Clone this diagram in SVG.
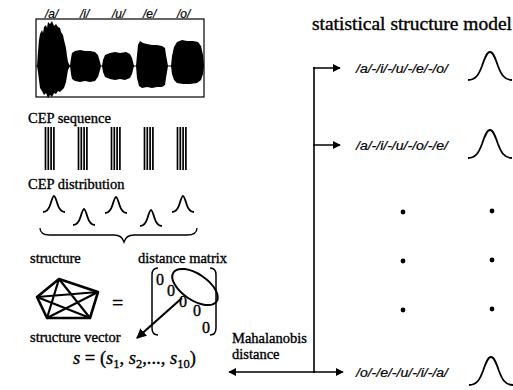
<svg xmlns="http://www.w3.org/2000/svg" width="513" height="390" viewBox="0 0 513 390">
<style>
.serif{font-family:"Liberation Serif","Times New Roman",serif;fill:#000;stroke:#000;stroke-width:0.35}
.ph{font-family:"Liberation Sans",Arial,sans-serif;font-style:italic;fill:#000;stroke:#000;stroke-width:0.2}
.ln{stroke:#000;fill:none}
.bell{stroke:#000;stroke-width:1.8;fill:none}
.dot{fill:#000}
</style>
<defs>
<marker id="ah" viewBox="0 0 10 10" refX="9" refY="5" markerWidth="8" markerHeight="8" markerUnits="userSpaceOnUse" orient="auto">
<path d="M0,0 L10,5 L0,10 Z" fill="#000"/>
</marker>
<marker id="ahb" viewBox="0 0 10 10" refX="9" refY="5" markerWidth="10" markerHeight="10" markerUnits="userSpaceOnUse" orient="auto">
<path d="M0,0 L10,5 L0,10 Z" fill="#000"/>
</marker>
<path id="sbell" d="M0,16 C4,16 6,13 7.5,8 C9,3 10,0 11,0 C12,0 13,3 14.5,8 C16,13 18,16 22,16"/>
<path id="bbell" d="M0,28 C8,28 11,22 14,14 C17,5 19,0 22,0 C25,0 27,5 30,14 C33,22 36,28 44,28"/>
</defs>

<g id="waveform">
<text class="ph" x="45" y="18" font-size="12">/a/</text>
<text class="ph" x="80" y="18" font-size="12">/i/</text>
<text class="ph" x="112" y="18" font-size="12">/u/</text>
<text class="ph" x="143" y="18" font-size="12">/e/</text>
<text class="ph" x="177" y="18" font-size="12">/o/</text>
<rect x="36" y="19" width="168" height="78" class="ln" stroke-width="1.2"/>
<line x1="36" y1="66" x2="204" y2="66" class="ln" stroke-width="1"/>
<path fill="#000" d="M37,66 L38,52 L39,40 L40,34 L42,30 L43,33 L44,27 L46,25 L47,28 L48,22 L50,24 L52,21 L54,26 L56,24 L58,27 L60,28 L61,32 L63,35 L64,40 L66,48 L67,56 L68,62 L70,66 L68,70 L67,76 L66,82 L64,88 L62,90 L60,92 L58,91 L56,94 L54,93 L52,97 L50,95 L48,98 L46,93 L44,95 L42,91 L40,88 L39,80 L38,72 Z"/>
<path fill="#000" d="M70,66 L71,58 L72,53 L75,51 L80,50 L85,51 L90,51 L95,52 L98,55 L100,62 L101,66 L100,70 L98,77 L95,81 L90,82 L85,81 L80,82 L75,81 L72,79 L71,74 Z"/>
<path fill="#000" d="M102,66 L103,60 L105,55 L110,53 L115,52 L120,53 L126,52 L130,54 L132,58 L134,66 L132,74 L130,78 L125,80 L120,79 L115,80 L110,79 L105,77 L103,72 Z"/>
<path fill="#000" d="M136,66 L137,55 L138,45 L140,41 L143,43 L147,44 L152,45 L157,45 L162,46 L165,48 L166,55 L168,66 L166,78 L165,85 L162,87 L157,87 L152,88 L147,87 L142,88 L139,86 L137,78 Z"/>
<path fill="#000" d="M171,66 L172,56 L174,47 L177,42 L182,40 L187,41 L193,41 L198,42 L201,46 L203,55 L204,66 L203,74 L201,80 L197,83 L190,84 L183,84 L177,83 L174,80 L172,74 Z"/>
</g>

<g id="cep-sequence">
<text class="serif" x="28" y="123" font-size="14.5">CEP sequence</text>
<g class="ln" stroke-width="1.7">
<path d="M45.5,127V170M48.3,127V170M51.1,127V170M53.9,127V170"/>
<path d="M78.5,127V170M81.3,127V170M84.1,127V170M86.9,127V170"/>
<path d="M111.5,127V170M114.3,127V170M117.1,127V170M119.9,127V170"/>
<path d="M144.5,127V170M147.3,127V170M150.1,127V170M152.9,127V170"/>
<path d="M177.5,127V170M180.3,127V170M183.1,127V170M185.9,127V170"/>
</g>
</g>

<g id="cep-distribution">
<text class="serif" x="28" y="189" font-size="14.5">CEP distribution</text>
<use href="#sbell" class="bell" x="43" y="196"/>
<use href="#sbell" class="bell" x="73" y="209"/>
<use href="#sbell" class="bell" x="105" y="197"/>
<use href="#sbell" class="bell" x="140" y="210"/>
<use href="#sbell" class="bell" x="172" y="196"/>
<path class="ln" stroke-width="1.3" d="M40,228 Q40,235 50,235 L114,235 Q122,235 124,242 Q126,235 134,235 L187,235 Q197,235 197,228"/>
</g>

<g id="structure">
<text class="serif" x="30" y="263" font-size="14.5">structure</text>
<polygon class="ln" stroke-width="2.6" stroke-linejoin="round" points="59,279 98,292 90,318 47,318 37,297"/>
<polygon class="ln" stroke-width="2.2" stroke-linejoin="round" points="59,279 90,318 37,297 98,292 47,318"/>
<text class="serif" x="112" y="310" font-size="20">=</text>
</g>

<g id="distance-matrix">
<text class="serif" x="138" y="263" font-size="14.5">distance matrix</text>
<path class="ln" stroke-width="1.5" d="M158,268 Q152,268 152,275 L152,328 Q152,335 158,335"/>
<path class="ln" stroke-width="1.5" d="M210,268 Q216,268 216,275 L216,328 Q216,335 210,335"/>
<text class="serif" font-size="16" x="156" y="285">0</text>
<text class="serif" font-size="16" x="167" y="296">0</text>
<text class="serif" font-size="16" x="179" y="307">0</text>
<text class="serif" font-size="16" x="193" y="316">0</text>
<text class="serif" font-size="16" x="202" y="333">0</text>
<ellipse cx="195" cy="287" rx="26" ry="13" transform="rotate(34 195 287)" class="ln" stroke-width="2"/>
</g>

<g id="structure-vector">
<text class="serif" x="30" y="342" font-size="14.5">structure vector</text>
<text class="serif" x="73" y="364" font-size="18.5"><tspan font-style="italic">s</tspan> = (<tspan font-style="italic">s</tspan><tspan font-size="12.5" dy="4">1</tspan><tspan dy="-4">, </tspan><tspan font-style="italic">s</tspan><tspan font-size="12.5" dy="4">2</tspan><tspan dy="-4">,..., </tspan><tspan font-style="italic">s</tspan><tspan font-size="12.5" dy="4">10</tspan><tspan dy="-4">)</tspan></text>
</g>

<g id="mahalanobis">
<text class="serif" x="232" y="343" font-size="14.5">Mahalanobis</text>
<text class="serif" x="232" y="359" font-size="14.5">distance</text>
</g>

<g id="model">
<text class="serif" x="312" y="30" font-size="18" textLength="200" lengthAdjust="spacingAndGlyphs">statistical structure model</text>
<text class="ph" x="356" y="73" font-size="12" textLength="92" lengthAdjust="spacingAndGlyphs">/a/-/i/-/u/-/e/-/o/</text>
<use href="#bbell" class="bell" x="468" y="52"/>
<text class="ph" x="356" y="150" font-size="12" textLength="92" lengthAdjust="spacingAndGlyphs">/a/-/i/-/u/-/o/-/e/</text>
<use href="#bbell" class="bell" x="468" y="130"/>
<text class="ph" x="356" y="377" font-size="12" textLength="92" lengthAdjust="spacingAndGlyphs">/o/-/e/-/u/-/i/-/a/</text>
<use href="#bbell" class="bell" x="469" y="357"/>
<circle class="dot" cx="403" cy="212" r="2.4"/>
<circle class="dot" cx="403" cy="261" r="2.4"/>
<circle class="dot" cx="403" cy="310" r="2.4"/>
<circle class="dot" cx="492" cy="211" r="2.4"/>
<circle class="dot" cx="492" cy="260" r="2.4"/>
<circle class="dot" cx="492" cy="309" r="2.4"/>
</g>

<g id="connectors">
<line class="ln" stroke-width="2.2" x1="182" y1="298" x2="137" y2="338" marker-end="url(#ahb)"/>
<line class="ln" stroke-width="1.6" x1="314" y1="67" x2="314" y2="373"/>
<line class="ln" stroke-width="1.5" x1="313" y1="68" x2="340" y2="68" marker-end="url(#ah)"/>
<line class="ln" stroke-width="1.5" x1="313" y1="145" x2="340" y2="145" marker-end="url(#ah)"/>
<line class="ln" stroke-width="1.5" x1="313" y1="372" x2="343" y2="372" marker-end="url(#ah)"/>
<line class="ln" stroke-width="1.5" x1="314" y1="372" x2="229" y2="372" marker-end="url(#ah)"/>
</g>
</svg>
